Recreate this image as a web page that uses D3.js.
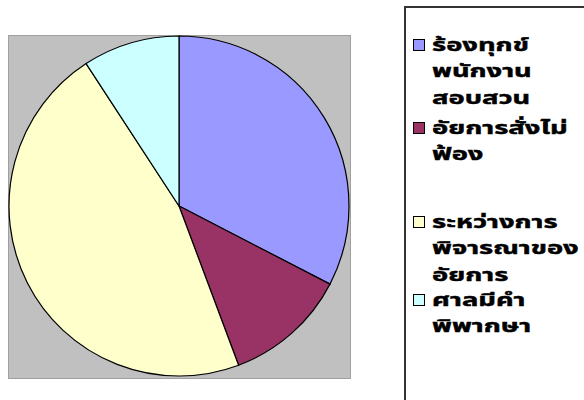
<!DOCTYPE html>
<html>
<head>
<meta charset="utf-8">
<script src="https://cdn.jsdelivr.net/npm/d3@7/dist/d3.min.js"></script>
<style>
  html, body { margin: 0; padding: 0; background: #ffffff; }
  svg { display: block; }
</style>
</head>
<body>
<svg id="chart" width="584" height="400"></svg>
<script>
// Data
const categories = ["ร้องทุกข์ พนักงาน สอบสวน", "อัยการสั่งไม่ ฟ้อง", "ระหว่างการ พิจารณาของ อัยการ", "ศาลมีคำ พิพากษา"];
const legendLines = [["ร้องทุกข์", "พนักงาน", "สอบสวน"], ["อัยการสั่งไม่", "ฟ้อง"], ["ระหว่างการ", "พิจารณาของ", "อัยการ"], ["ศาลมีคำ", "พิพากษา"]];
const values = [32.6, 11.7, 46.5, 9.2];
const colors = ["#9999ff", "#993366", "#ffffcc", "#ccffff"];

const svg = d3.select("#chart");

// Plot area
const plot = { x: 8, y: 35, w: 342, h: 343 };
svg.append("rect")
  .attr("x", plot.x + 0.5).attr("y", plot.y + 0.5)
  .attr("width", plot.w).attr("height", plot.h)
  .attr("fill", "#c0c0c0").attr("stroke", "#a0a0a0").attr("stroke-width", 1);

const cx = 179, cy = 206, r = 170;
const pie = d3.pie().sort(null).value(d => d);
const arc = d3.arc().innerRadius(0).outerRadius(r);

svg.append("g").attr("transform", `translate(${cx},${cy})`)
  .selectAll("path")
  .data(pie(values))
  .join("path")
  .attr("d", arc)
  .attr("fill", (d, i) => colors[i])
  .attr("stroke", "#000")
  .attr("stroke-width", 1.2);

// Legend
svg.append("rect")
  .attr("x", 405).attr("y", 7)
  .attr("width", 200).attr("height", 420)
  .attr("fill", "#fff").attr("stroke", "#333").attr("stroke-width", 2);

const itemTops = [45, 128, 222, 300];
const lineH = 26.5;
const lg = svg.append("g");
legendLines.forEach((lines, i) => {
  const y0 = itemTops[i];
  lg.append("rect")
    .attr("x", 413.5).attr("y", y0 - 5.5)
    .attr("width", 11).attr("height", 11)
    .attr("fill", colors[i]).attr("stroke", "#000").attr("stroke-width", 1);
  const txt = lg.append("text")
    .attr("transform", `translate(432,${y0 + 6}) scale(1.52,1)`)
    .attr("font-family", "Tahoma, 'Noto Sans Thai', Loma, Garuda, sans-serif")
    .attr("font-weight", "bold")
    .attr("font-size", 18)
    .attr("fill", "#000")
    .attr("stroke", "#000")
    .attr("stroke-width", 0.45);
  lines.forEach((t, j) => {
    txt.append("tspan")
      .attr("x", 0)
      .attr("dy", j === 0 ? 0 : lineH)
      .text(t);
  });
});
</script>
</body>
</html>
